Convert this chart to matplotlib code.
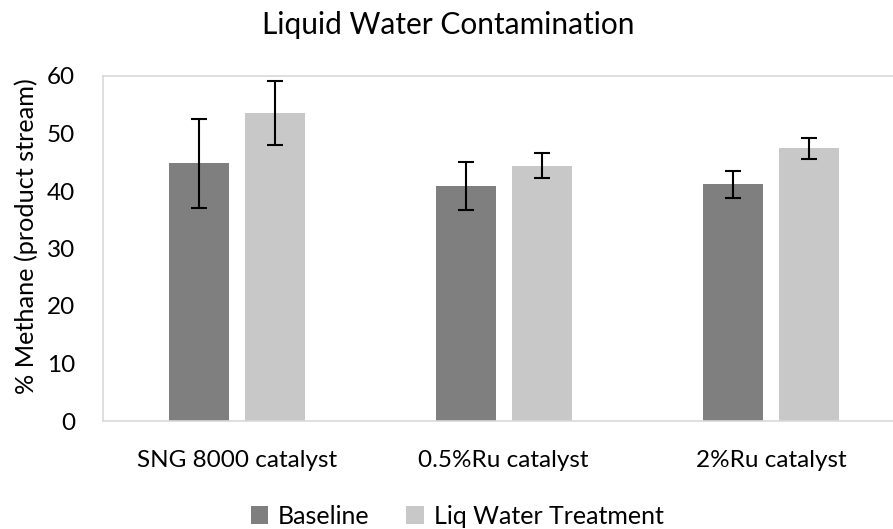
import matplotlib
matplotlib.use("Agg")
import matplotlib.pyplot as plt
import numpy as np

plt.rcParams['font.family'] = ['Lato', 'DejaVu Sans']

categories = ["SNG 8000 catalyst", "0.5%Ru catalyst", "2%Ru catalyst"]
series_names = ["Baseline", "Liq Water Treatment"]
baseline = [44.8, 40.9, 41.2]
baseline_err = [7.75, 4.2, 2.35]
liq_water = [53.5, 44.4, 47.4]
liq_water_err = [5.55, 2.15, 1.8]
yticks = [0, 10, 20, 30, 40, 50, 60]

fig = plt.figure(figsize=(8.93, 5.29), dpi=100)
ax = fig.add_axes([103/893, 1-421/529, 801.5/893, 345/529])

x = np.arange(len(categories))
w = 0.2247
off = 0.1423
ekw = dict(elinewidth=1.5, capthick=1.5, ecolor='black')
ax.bar(x - off, baseline, w, yerr=baseline_err, color='#7f7f7f',
       capsize=6, error_kw=ekw, label=series_names[0], zorder=2)
ax.bar(x + off, liq_water, w, yerr=liq_water_err, color='#c8c8c8',
       capsize=6, error_kw=ekw, label=series_names[1], zorder=2)

ax.set_xlim(-0.5, 2.5)
ax.set_ylim(0, 60)
ax.set_yticks(yticks)
ax.set_xticks(x)
ax.set_xticklabels(categories)
ax.tick_params(axis='both', length=0, labelsize=17.5, colors='black')
ax.tick_params(axis='y', pad=20)
ax.tick_params(axis='x', pad=21)
for s in ax.spines.values():
    s.set_color('#d9d9d9')
    s.set_linewidth(1.2)

ax.set_ylabel("% Methane (product stream)", fontsize=18.2)
ax.yaxis.set_label_coords(-(103-38)/801.5, (421-236)/345)

fig.text(448/893, 1-25/529, "Liquid Water Contamination", ha='center', va='center', fontsize=21.5)

fig.legend(loc='center', bbox_to_anchor=(457/893, 1-516/529), ncol=2, frameon=False,
           fontsize=18, handlelength=0.7, handleheight=0.7, columnspacing=1.45, handletextpad=0.4)

fig.savefig("out.png", dpi=100)
